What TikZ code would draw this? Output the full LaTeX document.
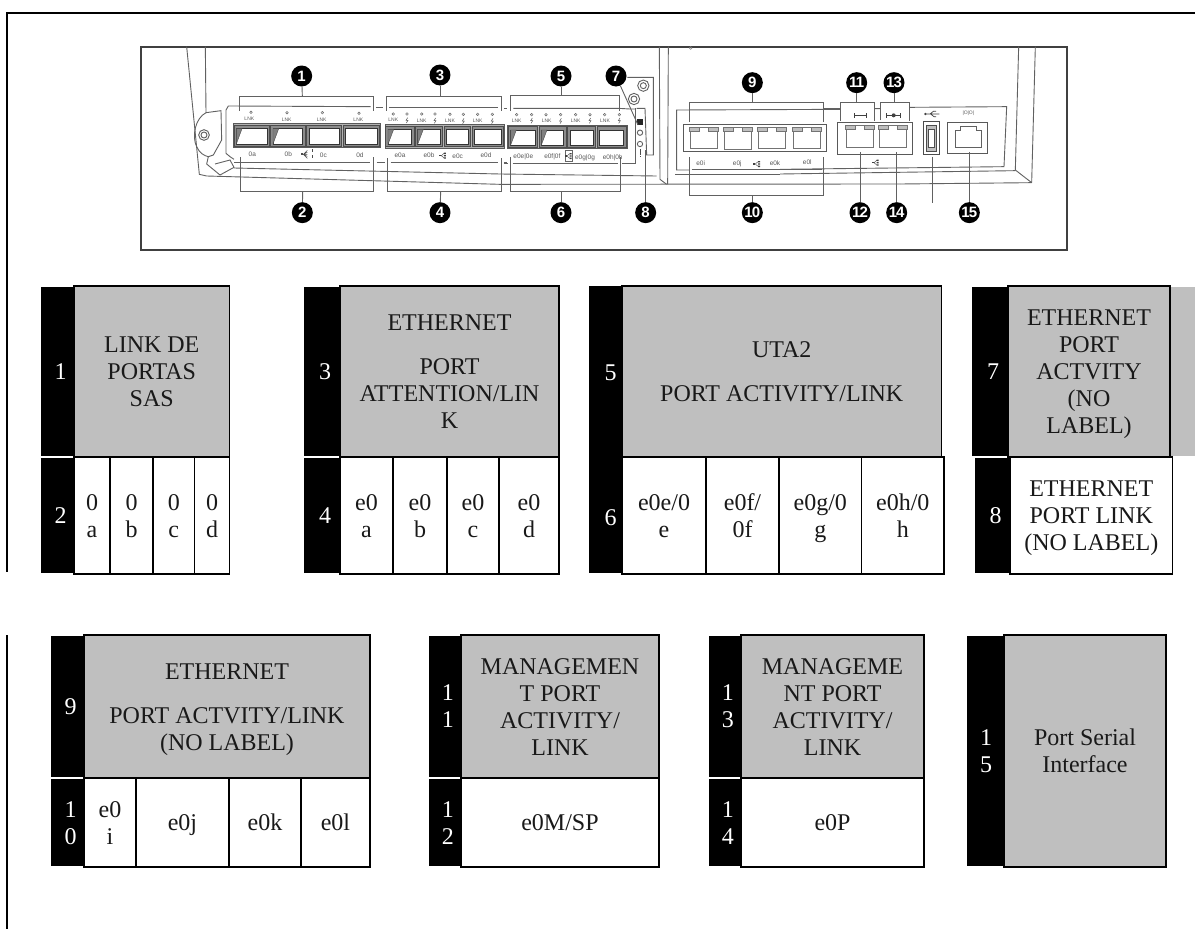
\documentclass[tikz,border=0pt]{standalone}
\usepackage{fontspec}
\setmainfont{Liberation Serif}
\newfontfamily\lab{Liberation Sans}
\tikzset{
  ln/.style={draw=black!62,line width=0.9pt},
  thin ln/.style={draw=black!55,line width=0.7pt},
  frameln/.style={draw=black!75,line width=1.2pt},
  balloon/.style={circle,fill=black,inner sep=0pt,minimum size=21pt,text=white,font=\lab\bfseries\fontsize{15}{15}\selectfont},
  tiny lab/.style={text=black!65,inner sep=0pt,font=\lab\fontsize{6.5}{7}\selectfont},
  lnk lab/.style={text=black!65,inner sep=0pt,font=\lab\fontsize{5}{6}\selectfont},
  cell txt/.style={align=center,inner sep=0pt,font=\fontsize{24}{27}\selectfont,text=black!90},
  num txt/.style={align=center,inner sep=0pt,xshift=3pt,font=\fontsize{24}{27}\selectfont,text=white},
  grid ln/.style={draw=black,line width=1.3pt},
  zoomed/.style={x=0.33333pt,y=-0.33333pt}
}
\definecolor{cellgrey}{HTML}{BFBFBF}
\newcommand{\cs}{\rule{0pt}{23pt}}
\newcommand{\ce}{\rule[-7pt]{0pt}{7pt}}
% table cells
\newcommand{\gcell}[6]{\path[grid ln,fill=cellgrey] (#2,#3) rectangle (#4,#5);\node[cell txt] (#1) at ({(#2+#4)/2},{(#3+#5)/2}) {\cs #6\ce};}
\newcommand{\wcell}[6]{\path[grid ln,fill=white] (#2,#3) rectangle (#4,#5);\node[cell txt] (#1) at ({(#2+#4)/2},{(#3+#5)/2}) {\cs #6\ce};}
\newcommand{\bcell}[6]{\fill[black] (#2,#3) rectangle (#4,#5);\node[num txt] (#1) at ({(#2+#4)/2},{(#3+#5)/2}) {\cs #6\ce};}
% device pieces, in zoomed coordinates
\newcommand{\sfpport}[5][]{%
  \pgfmathsetmacro{\ax}{#2+7}\pgfmathsetmacro{\bx}{#3-7}\pgfmathsetmacro{\ay}{#4+10}\pgfmathsetmacro{\by}{#5-7}%
  \path[draw=black!70,line width=.6pt,fill=black!45] (#2,#4) rectangle (#3,#5);
  \path[draw=black!80,line width=.8pt,fill=white] (\ax,\ay) rectangle (\bx,\by);
  #1}
\newcommand{\sfpdiag}[3]{\pgfmathsetmacro{\cx}{#1+24}\pgfmathsetmacro{\dx}{#1+7}\path[fill=black!50,draw=black!70,line width=.4pt] (\dx,#3) -- (\cx,#2) -- (\dx,#2) -- cycle;}
\newcommand{\rjport}[4]{%
  \pgfmathsetmacro{\ax}{#1-3}\pgfmathsetmacro{\bx}{#1+27}\pgfmathsetmacro{\cx}{#2-27}\pgfmathsetmacro{\dx}{#2+3}\pgfmathsetmacro{\ly}{#3+11}%
  \path[thin ln] (#1,#3) rectangle (#2,#4);
  \path[thin ln,fill=black!25] (\ax,#3) rectangle (\bx,\ly);
  \path[thin ln,fill=black!25] (\cx,#3) rectangle (\dx,\ly);}
\newcommand{\ledc}[2]{\path[draw=black!60,line width=.4pt,fill=black!15] (#1,#2) circle[radius=4];}
\newcommand{\boltg}[2]{\begin{scope}[shift={(#1,#2)}]\path[draw=black!65,line width=.5pt] (2,-8)--(-3,0)--(3,0)--(-2,8);\end{scope}}
\newcommand{\netic}[2]{\begin{scope}[shift={(#1,#2)}]\fill[black!75] (-12,-2) rectangle (-6,2);\path[draw=black!75,line width=.4pt] (-6,0)--(2,-7) (-6,0)--(2,7);\fill[black!75] (2,-9) rectangle (8,-5) (2,-2) rectangle (8,2) (2,5) rectangle (8,9);\end{scope}}
\begin{document}
\begin{tikzpicture}[x=1pt,y=-1pt]
\useasboundingbox (0,0) rectangle (1195,929);
\fill[white] (0,0) rectangle (1195,929);
% page rules
\coordinate (tl) at (7,13);
\coordinate (tr) at (1195,13);
\coordinate (lm) at (7,572);
\coordinate (ln2) at (7,635);
\coordinate (lb) at (7,929);
\draw[black,line width=2pt] (tr) -- (tl) -- (lm);
\draw[black,line width=1.6pt] (ln2) -- (lb);
% photo frame
\path[frameln] (141,47) rectangle (1067,250);

%% left part of the device, zoom coordinates (140,40)
\begin{scope}[shift={(140,40)},zoomed]
  \path[ln] (140,20) -- (178,403) -- (200,408);
  \path[ln] (196,20) -- (198,218);
  \path[ln] (198,218) -- (243,212) -- (245,300) -- (220,345) -- (205,350) -- (200,372) -- (240,405) -- (282,382) -- (270,360) -- (225,372);
  \path[ln] (198,218) .. controls (165,235) and (155,290) .. (170,320) .. controls (178,340) and (195,348) .. (205,350);
  \path[ln] (192,285) circle[radius=16];
  \path[ln] (192,285) circle[radius=9];
  \path[ln] (282,358) -- (270,350) -- (258,340) -- (258,210) -- (265,198) -- (692,200);
  \path[ln] (708,202) -- (730,202) (748,202) -- (1075,202) (1092,204) -- (1100,204);
  \path[ln] (282,366) -- (690,366) (710,366) -- (735,366) (752,366) -- (1075,366) (1092,368) -- (1100,368);
  \path[ln] (282,384) -- (1080,402);
  \path[ln] (200,408) -- (1080,433);
  % SAS
  \path[draw=black!65,fill=black!30,line width=.7pt] (280,250) rectangle (720,322);
  \sfpport{282}{388}{256}{319}\sfpdiag{282}{266}{312}
  \sfpport{392}{495}{256}{319}\sfpdiag{392}{266}{312}
  \sfpport{500}{605}{256}{319}
  \sfpport{610}{718}{256}{319}
  % e0a-d
  \path[draw=black!65,fill=black!30,line width=.7pt] (735,252) rectangle (1092,324);
  \sfpport{737}{822}{258}{320}\sfpdiag{737}{268}{313}
  \sfpport{826}{908}{258}{320}\sfpdiag{826}{268}{313}
  \sfpport{912}{992}{258}{320}
  \sfpport{997}{1090}{258}{320}
  % LEDs and texts
  \ledc{333}{217}\ledc{441}{218}\ledc{547}{218}\ledc{657}{220}
  \ledc{760}{222}\ledc{801}{222}\ledc{845}{222}\ledc{885}{222}\ledc{930}{223}\ledc{970}{223}\ledc{1013}{223}\ledc{1057}{223}
  \node[lnk lab] (l1) at (328,237) {LNK};
  \node[lnk lab] (l2) at (440,238) {LNK};
  \node[lnk lab] (l3) at (545,238) {LNK};
  \node[lnk lab] (l4) at (655,240) {LNK};
  \node[lnk lab] (l5) at (760,240) {LNK};
  \node[lnk lab] (l6) at (845,241) {LNK};
  \node[lnk lab] (l7) at (930,242) {LNK};
  \node[lnk lab] (l8) at (1013,241) {LNK};
  \boltg{801}{241}\boltg{885}{242}\boltg{970}{243}\boltg{1057}{243}
  \node[tiny lab] (t0a) at (337,342) {0a};
  \node[tiny lab] (t0b) at (445,342) {0b};
  \node[tiny lab] (t0c) at (550,345) {0c};
  \node[tiny lab] (t0d) at (660,345) {0d};
  \node[tiny lab] (te0a) at (780,347) {e0a};
  \node[tiny lab] (te0b) at (867,347) {e0b};
  \node[tiny lab] (te0c) at (953,349) {e0c};
  \node[tiny lab] (te0d) at (1038,347) {e0d};
  \netic{910}{347}
  % SAS icon
  \begin{scope}[shift={(498,343)}]
    \fill[black!70] (-16,-3) rectangle (-8,3);
    \path[draw=black!70,line width=.5pt] (-8,0)--(4,-12) (-8,0)--(4,-6) (-8,0)--(4,0) (-8,0)--(4,6) (-8,0)--(4,12);
    \path[draw=black!70,line width=.8pt,dash pattern=on 3pt off 3pt] (18,-15)--(18,15);
  \end{scope}
  % brackets 1-4
  \node[balloon] (b1) at (485,108) {1};
  \coordinate (s1) at (487,168);
  \draw[ln] (b1) -- (s1);
  \path[ln] (297,212) -- (297,168) -- (701,168) -- (701,212);
  \node[balloon] (b2) at (487,518) {2};
  \coordinate (s2) at (488,455);
  \draw[ln] (b2) -- (s2);
  \path[ln] (300,352) -- (300,455) -- (700,455) -- (700,352);
  \node[balloon] (b3) at (900,105) {3};
  \coordinate (s3) at (900,168);
  \draw[ln] (b3) -- (s3);
  \path[ln] (740,212) -- (740,168) -- (1083,168) -- (1083,212);
  \node[balloon] (b4) at (900,518) {4};
  \coordinate (s4) at (902,455);
  \draw[ln] (b4) -- (s4);
  \path[ln] (742,355) -- (742,455) -- (1083,455) -- (1083,355);
\end{scope}

%% middle part, zoom coordinates (500,40)
\begin{scope}[shift={(500,40)},zoomed]
  \path[ln] (12,204) -- (22,204) (12,369) -- (25,369);
  \path[ln] (40,205) -- (355,205) -- (390,207) -- (405,207);
  \path[ln] (38,370) -- (355,370) (365,370) -- (405,370) -- (405,205);
  \path[ln] (0,402) -- (470,408);
  \path[ln] (478,20) -- (480,418) -- (500,433);
  \path[ln] (505,20) -- (503,433);
  \path[ln] (0,433) -- (1200,432);
  \path[draw=black!50,line width=.5pt] (572,24) circle[radius=4];
  % panel detail
  \path[ln] (382,112) -- (460,112) -- (460,345) -- (440,345) -- (435,205) -- (410,205);
  \path[ln] (430,137) circle[radius=17];
  \path[ln] (430,137) circle[radius=9];
  \path[ln] (402,177) circle[radius=17];
  \path[ln] (402,177) circle[radius=9];
  \fill[black!85] (411,237) rectangle (428,254);
  \path[ln] (420,278) circle[radius=8];
  \path[ln] (420,312) circle[radius=8];
  \path[draw=black!70,line width=.9pt] (420,328) -- (420,344) (420,349) -- (420,352);
  % UTA2
  \path[draw=black!65,fill=black!30,line width=.7pt] (22,257) rectangle (382,326);
  \sfpport{25}{112}{260}{322}\sfpdiag{25}{270}{315}
  \sfpport{117}{198}{260}{322}\sfpdiag{117}{270}{315}
  \sfpport{203}{287}{260}{322}
  \sfpport{292}{378}{260}{322}
  \ledc{50}{224}\ledc{95}{224}\ledc{138}{224}\ledc{182}{224}\ledc{227}{224}\ledc{270}{224}\ledc{314}{224}\ledc{358}{224}
  \node[lnk lab] (l9) at (50,242) {LNK};
  \node[lnk lab] (l10) at (140,243) {LNK};
  \node[lnk lab] (l11) at (227,241) {LNK};
  \node[lnk lab] (l12) at (315,242) {LNK};
  \boltg{95}{242}\boltg{182}{243}\boltg{270}{242}\boltg{358}{242}
  \node[tiny lab] (te0e) at (70,350) {e0e|0e};
  \node[tiny lab] (te0f) at (157,351) {e0f|0f};
  \node[tiny lab] (te0g) at (255,352) {e0g|0g};
  \node[tiny lab] (te0h) at (338,352) {e0h|0h};
  \path[draw=black!60,line width=.4pt] (195,332) rectangle (217,365);
  \netic{207}{348}
  % right panel outline
  \path[ln] (1020,208) -- (530,210) -- (530,390) -- (568,390);
  \path[ln] (575,388) -- (965,388);
  \path[ln] (525,402) -- (840,402);
  % ethernet group
  \path[draw=black!65,line width=.7pt] (550,252) rectangle (978,335);
  \rjport{570}{652}{262}{325}
  \rjport{672}{755}{262}{327}
  \rjport{776}{857}{262}{325}
  \rjport{880}{962}{262}{325}
  \node[tiny lab] (te0i) at (602,370) {e0i};
  \node[tiny lab] (te0j) at (712,370) {e0j};
  \node[tiny lab] (te0k) at (825,370) {e0k};
  \node[tiny lab] (te0l) at (922,367) {e0l};
  \netic{772}{372}
  % brackets 5-10
  \node[balloon] (b5) at (183,108) {5};
  \coordinate (s5) at (183,166);
  \draw[ln] (b5) -- (s5);
  \path[ln] (30,212) -- (30,166) -- (358,166) -- (358,212);
  \node[balloon] (b6) at (183,518) {6};
  \coordinate (s6) at (183,455);
  \draw[ln] (b6) -- (s6);
  \path[ln] (32,352) -- (32,455) -- (360,455) -- (360,352);
  \node[balloon] (b7) at (348,108) {7};
  \coordinate (s7) at (414,255);
  \draw[ln] (b7) -- (s7);
  \node[balloon] (b8) at (437,518) {8};
  \coordinate (s8) at (437,330);
  \draw[ln] (b8) -- (s8);
  \node[balloon] (b9) at (757,128) {9};
  \coordinate (s9) at (757,188);
  \draw[ln] (b9) -- (s9);
  \path[ln] (568,245) -- (568,188) -- (970,188) -- (970,245);
  \node[balloon] (b10) at (757,518) {1\kern-1pt0};
  \coordinate (s10) at (757,465);
  \draw[ln] (b10) -- (s10);
  \path[ln] (568,352) -- (568,465) -- (970,465) -- (970,352);
\end{scope}

%% right part, zoom coordinates (780,40)
\begin{scope}[shift={(780,40)},zoomed]
  \path[ln] (130,206) -- (180,206) (282,206) -- (300,206) (390,202) -- (680,200) -- (672,380) -- (0,388);
  \path[ln] (716,20) -- (706,390) -- (755,428);
  \path[ln] (766,20) -- (755,428);
  \path[ln] (706,392) -- (0,402);
  \path[ln] (360,432) -- (755,428);
  % mgmt
  \path[draw=black!65,fill=white,line width=.7pt] (172,248) rectangle (398,343);
  \rjport{198}{280}{256}{322}
  \rjport{298}{380}{256}{322}
  % USB
  \path[draw=black!70,fill=white,line width=.9pt] (430,245) rectangle (478,343);
  \path[draw=black!70,fill=black!25,line width=.7pt] (440,255) rectangle (468,335);
  \path[draw=black!70,fill=white,line width=.5pt] (444,268) rectangle (464,322);
  % serial
  \path[draw=black!65,fill=white,line width=.7pt] (502,248) rectangle (622,340);
  \path[ln] (525,322) -- (525,270) -- (540,270) -- (540,258) -- (590,258) -- (590,270) -- (605,270) -- (605,322) -- cycle;
  \netic{288}{368}
  % icons
  \path[draw=black!75,line width=.8pt] (222,219) -- (222,233) (222,226) -- (258,226) (258,219) -- (258,233);
  \path[draw=black!75,line width=.8pt] (320,219) -- (320,233) (320,226) -- (362,226) (362,219) -- (362,233);
  \fill[black!75] (341,226) circle[radius=6];
  \path[draw=black!75,line width=.7pt] (436,222) -- (478,222) (450,222) -- (460,214) -- (468,214) (452,222) -- (462,230) -- (468,230);
  \fill[black!75] (436,222) circle[radius=4];
  \node[lnk lab] (serial icon) at (565,220) {|O|O|};
  % brackets 11-15
  \node[balloon] (b11) at (230,128) {1\kern-1.5pt1};
  \coordinate (s11) at (230,186);
  \draw[ln] (b11) -- (s11);
  \path[ln] (180,242) -- (180,186) -- (282,186) -- (282,242);
  \node[balloon] (b13) at (342,128) {1\kern-1pt3};
  \coordinate (s13) at (342,186);
  \draw[ln] (b13) -- (s13);
  \path[ln] (301,240) -- (301,186) -- (389,186) -- (389,242);
  \node[balloon] (b12) at (240,518) {1\kern-1pt2};
  \coordinate (s12) at (240,335);
  \draw[ln] (b12) -- (s12);
  \node[balloon] (b14) at (350,518) {1\kern-1pt4};
  \coordinate (s14) at (350,335);
  \draw[ln] (b14) -- (s14);
  \node[balloon] (b15) at (568,518) {1\kern-1pt5};
  \coordinate (s15) at (568,335);
  \draw[ln] (b15) -- (s15);
  \path[ln] (456,350) -- (456,488);
\end{scope}

%% TABLES, ROW 1
% 1-2
\bcell{n1}{41}{287}{74}{456}{1}
\bcell{n2}{41}{458}{74}{573}{2}
\gcell{c1}{74}{286}{229.5}{457}{LINK DE\\PORTAS\\SAS}
\wcell{c2a}{74}{457}{110}{574}{0\\a}
\wcell{c2b}{110}{457}{153}{574}{0\\b}
\wcell{c2c}{153}{457}{194.5}{574}{0\\c}
\wcell{c2d}{194.5}{457}{229.5}{574}{0\\d}
% 3-4
\bcell{n3}{304}{287}{340}{456}{3}
\bcell{n4}{304}{458}{340}{573}{4}
\gcell{c3}{340}{286}{559}{457}{ETHERNET\\[17pt]PORT\\ATTENTION/LIN\\K}
\wcell{c4a}{340}{457}{393}{574}{e0\\a}
\wcell{c4b}{393}{457}{447}{574}{e0\\b}
\wcell{c4c}{447}{457}{499}{574}{e0\\c}
\wcell{c4d}{499}{457}{559}{574}{e0\\d}
% 5-6
\fill[black] (589,286) rectangle (622,573);
\node[num txt] (n5) at (607.5,372) {\cs 5\ce};
\node[num txt] (n6) at (607.5,517) {\cs 6\ce};
\gcell{c5}{622}{286}{941.5}{457}{UTA2\\[17pt]PORT ACTIVITY/LINK}
\wcell{c6a}{622}{457}{706}{574}{e0e/0\\e}
\wcell{c6b}{706}{457}{779}{574}{e0f/\\0f}
\wcell{c6c}{779}{457}{861.5}{574}{e0g/0\\g}
\wcell{c6d}{861.5}{457}{944}{574}{e0h/0\\h}
% 7-8
\fill[cellgrey] (1171,287) rectangle (1195,456);
\bcell{n7}{972}{287}{1008}{456}{7}
\bcell{n8}{975}{458}{1010}{573}{8}
\gcell{c7}{1008}{286}{1170}{457}{ETHERNET\\PORT\\ACTVITY\\(NO\\LABEL)}
\wcell{c8}{1010}{457}{1172.5}{574}{ETHERNET\\PORT LINK\\(NO LABEL)}

%% TABLES, ROW 2
% 9-10
\bcell{n9}{51}{636}{84}{776.5}{9}
\bcell{n10}{51}{779}{84}{866}{1\\0}
\gcell{c9}{84}{635}{370}{778}{ETHERNET\\[17pt]PORT ACTVITY/LINK\\(NO LABEL)}
\wcell{c10a}{84}{778}{136}{867}{e0\\i}
\wcell{c10b}{136}{778}{229}{867}{e0j}
\wcell{c10c}{229}{778}{301}{867}{e0k}
\wcell{c10d}{301}{778}{370}{867}{e0l}
% 11-12
\bcell{n11}{428.5}{636}{461}{776.5}{1\\1}
\bcell{n12}{428.5}{779}{461}{866}{1\\2}
\gcell{c11}{461}{635}{659}{778}{MANAGEMEN\\T PORT\\ACTIVITY/\\LINK}
\wcell{c12}{461}{778}{659}{867}{e0M/SP}
% 13-14
\bcell{n13}{708.5}{636}{741}{776.5}{1\\3}
\bcell{n14}{708.5}{779}{741}{866}{1\\4}
\gcell{c13}{741}{635}{924}{778}{MANAGEME\\NT PORT\\ACTIVITY/\\LINK}
\wcell{c14}{741}{778}{924}{867}{e0P}
% 15
\fill[black] (966.5,636) rectangle (1004,866);
\node[num txt] (n15) at (983,751) {\cs 1\\5\ce};
\gcell{c15}{1004}{635}{1166}{867}{Port Serial\\Interface}
\end{tikzpicture}
\end{document}
